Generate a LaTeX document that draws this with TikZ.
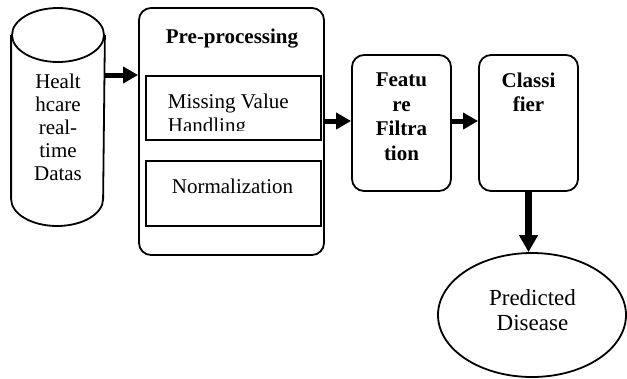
\documentclass[tikz,border=0pt]{standalone}
\usepackage{fontspec}
\setmainfont{Liberation Serif}
\usetikzlibrary{arrows.meta,shapes.geometric}

\begin{document}
\begin{tikzpicture}[x=1pt,y=-1pt,line width=1.8pt,
    txt/.style={inner sep=0pt,align=center,font=\fontsize{21}{24.5}\selectfont},
    hd/.style={txt,font=\fontsize{21}{24.5}\selectfont\bfseries},
    rbox/.style={draw,rounded corners=12pt,inner sep=0pt},
    sbox/.style={draw,inner sep=0pt},
    arr/.style={-{Triangle[width=16pt,length=15pt]},line width=5pt},
    bigarr/.style={-{Triangle[width=18pt,length=17pt]},line width=6.5pt}]
  \useasboundingbox (0,0) rectangle (627,378);
  % database cylinder
  \node[inner sep=0pt,minimum width=92pt,minimum height=218pt] (db) at (58,117) {};
  \draw (db.north west |- 0,35) -- (db.north west |- 0,199)
    arc[start angle=180,end angle=0,x radius=46,y radius=27] -- (db.north east |- 0,35);
  \draw (58,35) ellipse[x radius=46,y radius=27];
  \node[txt,font=\fontsize{21}{23}\selectfont] (dbtext) at (58,127.4) {Healt\\hcare\\real-\\time\\Datas};
  % pre-processing block
  \node[rbox,minimum width=185pt,minimum height=247pt] (pre) at (231.5,131.5) {};
  \node[hd] (pretitle) at (232,38.2) {Pre-processing};
  \node[sbox,minimum width=175pt,minimum height=64pt] (miss) at (233.5,108) {};
  \node[sbox,minimum width=175pt,minimum height=65pt] (norm) at (233.5,193.5) {};
  \begin{scope}
    \clip (miss.north west) rectangle ([yshift=10pt]miss.south east);
    \node[txt,align=left,anchor=north west] (misstext) at (167,92.7) {Missing Value\\Handling};
  \end{scope}
  \node[txt] (normtext) at (232.5,186) {Normalization};
  % feature filtration and classifier
  \node[rbox,minimum width=99pt,minimum height=136pt] (feat) at (401.5,123) {};
  \node[hd] (feattext) at (401.5,116.8) {Featu\\re\\Filtra\\tion};
  \node[rbox,minimum width=99pt,minimum height=136pt] (cls) at (528.5,123) {};
  \node[hd] (clstext) at (528.5,92.3) {Classi\\fier};
  % output
  \node[draw,ellipse,inner sep=0pt,minimum width=188pt,minimum height=124pt] (pred) at (532,315) {};
  \node[txt,font=\fontsize{23}{25.5}\selectfont] (predtext) at (532.5,310) {Predicted\\Disease};
  \draw[arr] (db.east |- 0,75) -- (pre.west |- 0,75);
  \draw[arr] ([yshift=2pt]pre.east |- feat.west) -- ([yshift=2pt]feat.west);
  \draw[arr] ([yshift=2pt]feat.east) -- ([yshift=2pt]cls.west);
  \draw[bigarr] (cls.south) -- (cls.south |- pred.north);
\end{tikzpicture}
\end{document}
